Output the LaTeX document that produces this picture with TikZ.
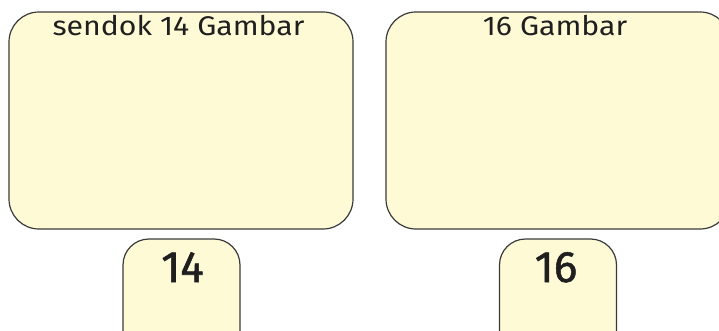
\documentclass[tikz,border=0pt]{standalone}
\usepackage{fontspec}
\setmainfont{Fira Sans}
\newfontfamily\numfont[FakeBold=1.2]{Fira Sans}
\definecolor{boxfill}{HTML}{FFFAD6}
\definecolor{boxline}{HTML}{3A3A3A}
\tikzset{
  bigbox/.style={draw=boxline, fill=boxfill, line width=1.2pt, rounded corners=30pt,
    minimum width=344pt, minimum height=217pt, inner sep=0pt},
  smallbox/.style={draw=boxline, fill=boxfill, line width=1.2pt, rounded corners=26pt,
    minimum width=117pt, minimum height=124pt, inner sep=0pt},
  title/.style={anchor=base, inner sep=0pt, font=\fontsize{27}{29}\selectfont, text=black!88},
  num/.style={anchor=base, inner sep=0pt, font=\numfont\fontsize{44}{48}\selectfont, text=black!88}
}
\newcommand{\wide}[1]{\scalebox{1.12}[1]{#1}}
\begin{document}
\begin{tikzpicture}[x=1pt,y=-1pt]
\useasboundingbox (0,0) rectangle (719,331);
\clip (0,0) rectangle (719,331);
\node[bigbox] (bl) at (181,120.5) {};
\node[bigbox] (br) at (558,120.5) {};
\node[smallbox] (sl) at (181.5,301) {};
\node[smallbox] (sr) at (558,301) {};
\node[title] (tl) at (178.5,36) {\wide{sendok 14 Gambar}};
\node[title] (tr) at (555,36) {\wide{16 Gambar}};
\node[num] (nl) at (182.5,282) {14};
\node[num] (nr) at (556,282) {16};
\end{tikzpicture}
\end{document}
